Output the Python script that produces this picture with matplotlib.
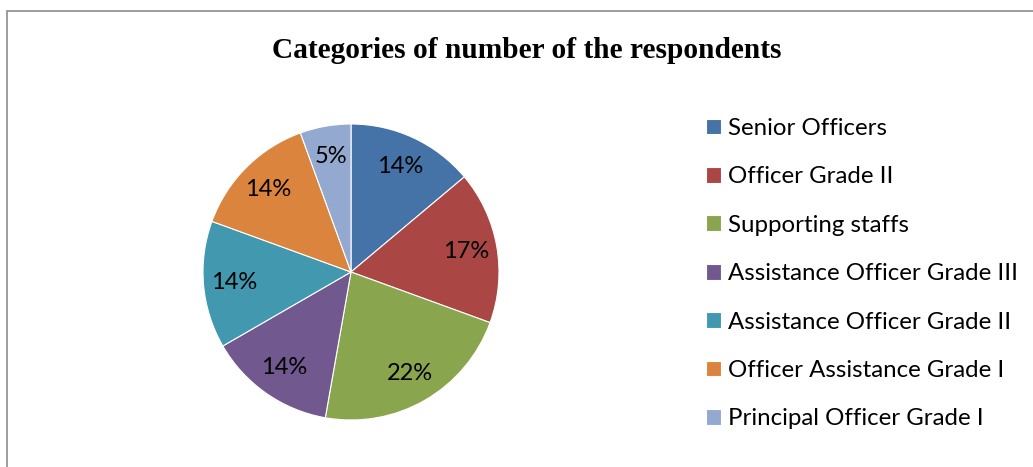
import matplotlib
matplotlib.use('Agg')
import matplotlib.pyplot as plt
from matplotlib.patches import Rectangle

# 数据
categories = ['Senior Officers', 'Officer Grade II', 'Supporting staffs',
              'Assistance Officer Grade III', 'Assistance Officer Grade II',
              'Officer Assistance Grade I', 'Principal Officer Grade I']
counts = [10, 12, 16, 10, 10, 10, 4]
pct_labels = ['14%', '17%', '22%', '14%', '14%', '14%', '5%']   # 图上标注的百分比
colors = ['#4572A7', '#AA4643', '#89A54E', '#71588F', '#4198AF', '#DB843D', '#93A9CF']
title = 'Categories of number of the respondents'

W, H = 1033, 467
fig = plt.figure(figsize=(W / 100, H / 100), dpi=100)

# 外框(右侧和底部被裁掉)
fig.patches.append(Rectangle((7 / W, -0.1), 1.2, (H - 11) / H + 0.1, transform=fig.transFigure,
                             fill=False, edgecolor='#8c8c8c', lw=1.2))

# 饼图: 圆心 (351, 272) 半径 148 像素
cx, cy, r = 351, 272, 148
ax = fig.add_axes([(cx - r) / W, (H - cy - r) / H, 2 * r / W, 2 * r / H])
_lbl = iter(pct_labels)
wedges, texts, autotexts = ax.pie(counts, colors=colors, startangle=90, counterclock=False,
                                  autopct=lambda p: next(_lbl), pctdistance=0.79,
                                  wedgeprops=dict(edgecolor='white', linewidth=0.8),
                                  textprops=dict(fontsize=17, family='Lato', color='black'))
ax.set_xlim(-1, 1); ax.set_ylim(-1, 1)
ax.set_aspect('equal')

fig.text(527 / W, 1 - 51 / H, title, ha='center', va='center',
         fontsize=21.2, fontweight='bold', family='Liberation Serif')

fig.legend(wedges, categories, loc='upper left', bbox_to_anchor=(706 / W, 1 - 118 / H),
           frameon=False, prop=dict(family='Lato', size=17.3),
           handlelength=0.63, handleheight=0.63, handletextpad=0.3, labelspacing=1.14,
           borderpad=0, borderaxespad=0)

fig.savefig('out.png', dpi=100)
